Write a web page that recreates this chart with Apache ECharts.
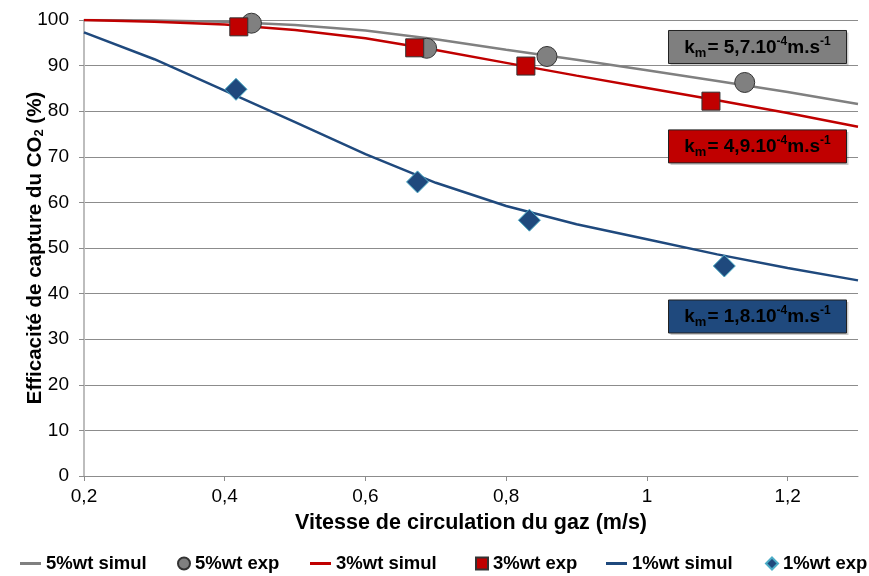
<!DOCTYPE html>
<html>
<head>
<meta charset="utf-8">
<script src="https://cdn.jsdelivr.net/npm/echarts@6/dist/echarts.min.js"></script>
<style>html,body{margin:0;padding:0;background:#fff;}#c{width:869px;height:576px;}</style>
</head>
<body>
<div id="c"></div>
<script>
// ---- data ----
const simX = [0.2, 0.3, 0.4, 0.5, 0.6, 0.7, 0.8, 0.9, 1.0, 1.1, 1.2, 1.3];
const sim5 = [100, 99.9, 99.6, 98.9, 97.7, 95.8, 93.5, 91.3, 89.0, 86.6, 84.2, 81.6];
const sim3 = [100, 99.6, 99.0, 97.8, 96.0, 93.4, 90.6, 87.8, 85.1, 82.4, 79.6, 76.6];
const sim1 = [97.3, 91.4, 84.5, 77.6, 70.6, 64.3, 59.2, 55.2, 51.9, 48.6, 45.6, 42.9];
const exp5X = [0.438, 0.687, 0.858, 1.139];
const exp5Y = [99.3, 93.8, 92.0, 86.3];
const exp3X = [0.420, 0.670, 0.828, 1.091];
const exp3Y = [98.5, 93.9, 89.9, 82.2];
const exp1X = [0.416, 0.674, 0.833, 1.110];
const exp1Y = [84.8, 64.5, 56.1, 46.05];
const seriesNames = ['5%wt simul', '5%wt exp', '3%wt simul', '3%wt exp', '1%wt simul', '1%wt exp'];
const kmValues = ['5,7.10', '4,9.10', '1,8.10'];
const kmAnchorY = [94.3, 72.5, 35.2];
const kmColors = ['#7f7f7f', '#c00000', '#1f497d'];

const pair = (xs, ys) => xs.map((x, i) => [x, ys[i]]);
const FONT = "'Liberation Sans', Arial, sans-serif";

const chart = echarts.init(document.getElementById('c'), null, {renderer: 'canvas'});

const lineS = (name, ys, color) => ({
  name, type: 'line', data: pair(simX, ys), symbol: 'none', showSymbol: false,
  lineStyle: {color, width: 2.5}, itemStyle: {color}, z: 2
});
const expS = (name, xs, ys, symbol, size, color, border) => ({
  name, type: 'scatter', data: pair(xs, ys), symbol, symbolSize: size,
  itemStyle: {color, borderColor: border, borderWidth: 1, opacity: 1}, z: 3
});

// one legend per entry, placed along the bottom row
const legendLeft = [15, 172, 305, 470, 601, 760];
const legends = seriesNames.map((n, i) => {
  const isLine = i % 2 === 0;
  return {
    data: [n], left: legendLeft[i], top: 549,
    icon: isLine ? 'rect' : undefined,
    itemWidth: isLine ? 21 : 12, itemHeight: isLine ? 3 : 12, itemGap: 4,
    textStyle: {fontFamily: FONT, fontSize: 18.5, fontWeight: 'bold', color: '#000'}
  };
});

const option = {
  animation: false,
  backgroundColor: '#fff',
  textStyle: {fontFamily: FONT},
  grid: {left: 84, right: 11, top: 20, bottom: 100, containLabel: false, outerBoundsMode: 'none'},
  xAxis: {
    type: 'value', min: 0.2, max: 1.3, interval: 0.2,
    name: 'Vitesse de circulation du gaz (m/s)', nameLocation: 'middle', nameGap: 36,
    nameMoveOverlap: false,
    nameTextStyle: {fontFamily: FONT, fontSize: 21.5, fontWeight: 'bold', color: '#000'},
    axisLine: {show: true, lineStyle: {color: '#8c8c8c', width: 1}},
    axisTick: {show: true, length: 5, lineStyle: {color: '#8c8c8c'}},
    axisLabel: {
      showMaxLabel: false, fontFamily: FONT, fontSize: 19, color: '#000', margin: 11,
      formatter: v => (Math.round(v * 10) / 10).toString().replace('.', ',')
    },
    splitLine: {show: false}
  },
  yAxis: {
    type: 'value', min: 0, max: 100, interval: 10,
    name: '{t|Efficacité de capture du CO}{s|2}{t| (%)}', nameLocation: 'middle', nameGap: 38,
    nameMoveOverlap: false,
    nameTextStyle: {
      rich: {
        t: {fontFamily: FONT, fontSize: 20.5, fontWeight: 'bold', color: '#000'},
        s: {fontFamily: FONT, fontSize: 13, fontWeight: 'bold', color: '#000', verticalAlign: 'bottom', padding: [9, 0, 0, 0]}
      }
    },
    axisLine: {show: true, lineStyle: {color: '#bdbdbd', width: 2}},
    axisTick: {show: true, length: 5, lineStyle: {color: '#8c8c8c'}},
    axisLabel: {fontFamily: FONT, fontSize: 19, color: '#000', margin: 15},
    splitLine: {show: true, lineStyle: {color: '#8c8c8c', width: 1}}
  },
  legend: legends,
  series: [
    lineS(seriesNames[0], sim5, '#808080'),
    expS(seriesNames[1], exp5X, exp5Y, 'circle', 20, '#808080', '#333'),
    lineS(seriesNames[2], sim3, '#c00000'),
    expS(seriesNames[3], exp3X, exp3Y, 'rect', 18, '#c00000', '#333'),
    lineS(seriesNames[4], sim1, '#1f497d'),
    expS(seriesNames[5], exp1X, exp1Y, 'diamond', 22, '#1f497d', '#4bacc6')
  ]
};
chart.setOption(option);

// annotation boxes, anchored with the chart's own scale
const richKm = {
  b: {fontFamily: FONT, fontSize: 19, fontWeight: 'bold', color: '#fff', lineHeight: 24},
  m: {fontFamily: FONT, fontSize: 13, fontWeight: 'bold', color: '#fff', verticalAlign: 'bottom', lineHeight: 24, padding: [7, 1, 0, 0]},
  p: {fontFamily: FONT, fontSize: 12, fontWeight: 'bold', color: '#fff', verticalAlign: 'top', lineHeight: 24, padding: [0, 0, 7, 0]}
};
const graphics = kmValues.map((val, i) => {
  const py = chart.convertToPixel({gridIndex: 0}, [1.0, kmAnchorY[i]])[1];
  return {
    type: 'group', left: 668, top: py - 16, z: 10,
    children: [
      {type: 'rect', shape: {x: 2, y: 2, width: 178, height: 33}, style: {fill: 'rgba(0,0,0,0.2)'}},
      {type: 'rect', shape: {x: 0, y: 0, width: 178, height: 33}, style: {fill: kmColors[i], stroke: '#222', lineWidth: 1}},
      {type: 'text', x: 89, y: 17, style: {
        text: '{b|k}{m|m}{b|= ' + val + '}{p|-4}{b|m.s}{p|-1}',
        rich: richKm, align: 'center', verticalAlign: 'middle'
      }}
    ]
  };
});
chart.setOption({graphic: graphics});
</script>
</body>
</html>
